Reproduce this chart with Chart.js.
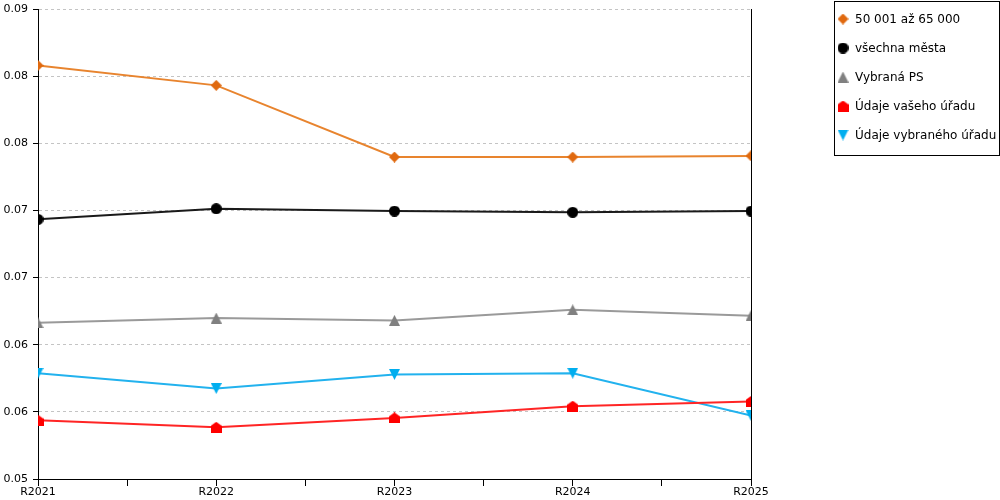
<!DOCTYPE html>
<html>
<head>
<meta charset="utf-8">
<script src="https://cdn.jsdelivr.net/npm/chart.js@4"></script>
<style>
html,body{margin:0;padding:0;background:#fff;}
#wrap{width:1000px;height:500px;position:relative;}
</style>
</head>
<body>
<div id="wrap"><canvas id="c" width="1000" height="500"></canvas></div>
<script>
const categories = ["R2021", "R2022", "R2023", "R2024", "R2025"];
const seriesNames = ["50 001 až 65 000", "všechna města", "Vybraná PS", "Údaje vašeho úřadu", "Údaje vybraného úřadu"];
const orangeValues = [0.0852, 0.0835, 0.0774, 0.0774, 0.0775];
const blackValues  = [0.0721, 0.0730, 0.0728, 0.0727, 0.0728];
const grayValues   = [0.0633, 0.0637, 0.0635, 0.0644, 0.0639];
const redValues    = [0.0550, 0.0544, 0.0552, 0.0562, 0.0566];
const blueValues   = [0.0590, 0.0577, 0.0589, 0.0590, 0.0554];
const yMin = 0.05, yMax = 0.09, yTickCount = 8;

function mk(w, h, draw) {
  const c = document.createElement('canvas');
  c.width = w; c.height = h;
  const g = c.getContext('2d');
  draw(g);
  return c;
}
const diamond = mk(11, 11, g => { g.fillStyle = '#E0690F'; g.beginPath(); g.moveTo(5.5,0); g.lineTo(11,5.5); g.lineTo(5.5,11); g.lineTo(0,5.5); g.closePath(); g.fill(); });
const circle = mk(11, 11, g => { g.fillStyle = '#000'; g.beginPath(); g.arc(5.5,5.5,5.5,0,Math.PI*2); g.fill(); });
const triUp = mk(11, 11, g => { g.fillStyle = '#808080'; g.beginPath(); g.moveTo(5.5,0); g.lineTo(11,11); g.lineTo(0,11); g.closePath(); g.fill(); });
const house = mk(11, 11, g => { g.fillStyle = '#FF0000'; g.beginPath(); g.moveTo(5.5,0); g.lineTo(11,4); g.lineTo(11,11); g.lineTo(0,11); g.lineTo(0,4); g.closePath(); g.fill(); });
const triDown = mk(11, 11, g => { g.fillStyle = '#00AEEF'; g.beginPath(); g.moveTo(0,0); g.lineTo(11,0); g.lineTo(5.5,11); g.closePath(); g.fill(); });

function pts(vals) { return vals.map((v, i) => ({x: i, y: v})); }

const styles = [
  {vals: orangeValues, line: '#E8842E', img: diamond},
  {vals: blackValues, line: '#1a1a1a', img: circle},
  {vals: grayValues, line: '#9a9a9a', img: triUp},
  {vals: redValues, line: '#FF2525', img: house},
  {vals: blueValues, line: '#22B2EE', img: triDown}
];

const datasets = styles.map((s, i) => ({
  label: seriesNames[i],
  data: pts(s.vals),
  borderColor: s.line,
  borderWidth: 2,
  pointStyle: s.img,
  pointRadius: 5,
  pointHoverRadius: 5,
  tension: 0,
  fill: false
}));

const legendPlugin = {
  id: 'boxLegend',
  afterDraw(chart) {
    const ctx = chart.ctx;
    ctx.save();
    ctx.strokeStyle = '#000';
    ctx.lineWidth = 1;
    ctx.strokeRect(834.5, 1.5, 165, 154);
    ctx.font = '12px "DejaVu Sans"';
    ctx.fillStyle = '#000';
    ctx.textBaseline = 'middle';
    ctx.textAlign = 'left';
    chart.data.datasets.forEach((ds, i) => {
      const y = 19 + i * 29;
      const img = styles[i].img;
      ctx.drawImage(img, 843 - img.width / 2, y - img.height / 2);
      ctx.fillText(ds.label, 855, y + 1);
    });
    const a = chart.chartArea;
    ctx.beginPath();
    ctx.moveTo(Math.round(a.right) + 0.5, a.top);
    ctx.lineTo(Math.round(a.right) + 0.5, a.bottom);
    ctx.stroke();
    ctx.restore();
  }
};

new Chart(document.getElementById('c'), {
  type: 'line',
  data: { datasets },
  options: {
    responsive: false,
    animation: false,
    events: [],
    layout: { padding: { top: 9, right: 249, left: 0, bottom: 0 } },
    plugins: { legend: { display: false }, tooltip: { enabled: false } },
    scales: {
      x: {
        type: 'linear',
        min: 0, max: categories.length - 1,
        afterFit(s) { s.height = 21; s.paddingLeft = 0; s.paddingRight = 0; },
        ticks: {
          stepSize: 0.5,
          autoSkip: false,
          maxRotation: 0,
          padding: 0,
          color: '#000',
          font: { family: 'DejaVu Sans', size: 11 },
          callback: v => Number.isInteger(v) ? categories[v] : ''
        },
        grid: { drawOnChartArea: false, drawTicks: true, tickLength: 7, tickColor: '#000', color: '#000' },
        border: { color: '#000', width: 1 }
      },
      y: {
        type: 'linear',
        min: yMin, max: yMax,
        afterFit(s) { s.width = 38; s.paddingTop = 0; s.paddingBottom = 0; },
        afterBuildTicks(s) {
          const t = [];
          for (let i = 0; i < yTickCount; i++) t.push({ value: yMin + i * (yMax - yMin) / (yTickCount - 1) });
          s.ticks = t;
        },
        ticks: {
          padding: 5,
          color: '#000',
          font: { family: 'DejaVu Sans', size: 11 },
          callback: v => v.toFixed(2)
        },
        grid: { color: '#c4c4c4', lineWidth: 1, tickLength: 5, tickColor: '#000' },
        border: { color: '#000', width: 1, dash: [3, 3] }
      }
    }
  },
  plugins: [legendPlugin]
});
</script>
</body>
</html>
